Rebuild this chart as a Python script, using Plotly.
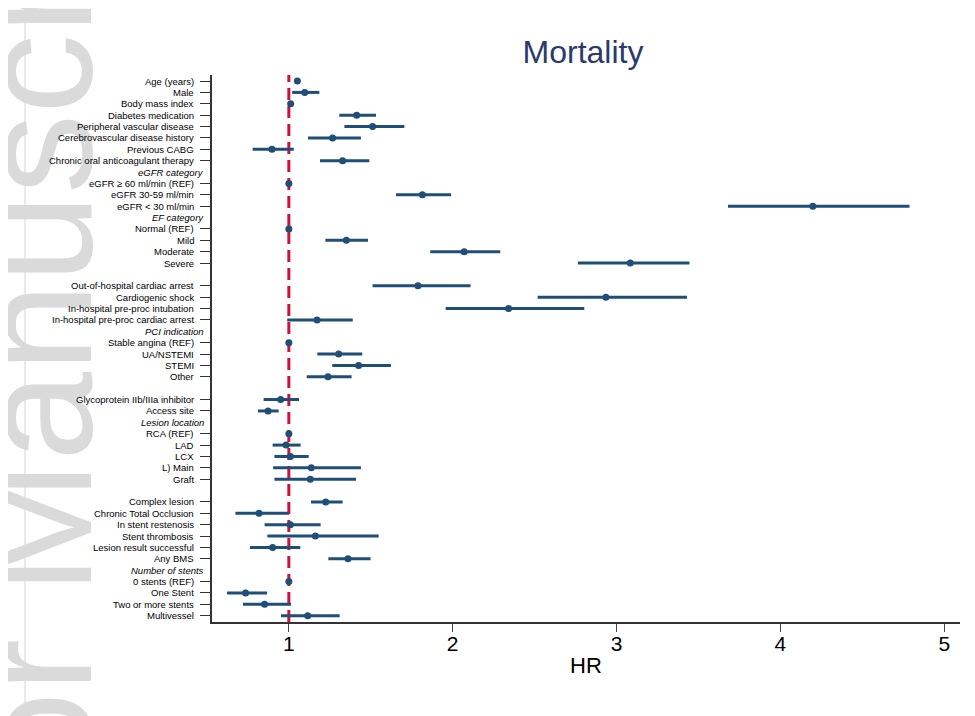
import plotly.graph_objects as go

# ---------------- data ----------------
labels = [
    "Age (years)", "Male", "Body mass index", "Diabetes medication",
    "Peripheral vascular disease", "Cerebrovascular disease history",
    "Previous CABG", "Chronic oral anticoagulant therapy",
    "eGFR category", "eGFR ≥ 60 ml/min (REF)", "eGFR 30-59 ml/min", "eGFR &lt; 30 ml/min",
    "EF category", "Normal (REF)", "Mild", "Moderate", "Severe",
    "",
    "Out-of-hospital cardiac arrest", "Cardiogenic shock",
    "In-hospital pre-proc intubation", "In-hospital pre-proc cardiac arrest",
    "PCI indication", "Stable angina (REF)", "UA/NSTEMI", "STEMI", "Other",
    "",
    "Glycoprotein IIb/IIIa inhibitor", "Access site",
    "Lesion location", "RCA (REF)", "LAD", "LCX", "L) Main", "Graft",
    "",
    "Complex lesion", "Chronic Total Occlusion", "In stent restenosis",
    "Stent thrombosis", "Lesion result successful", "Any BMS",
    "Number of stents", "0 stents (REF)", "One Stent", "Two or more stents", "Multivessel",
]
headers = ["eGFR category", "EF category", "PCI indication", "Lesion location", "Number of stents"]

hr = [1.052, 1.097, 1.011, 1.414, 1.511, 1.267, 0.897, 1.328,
      None, 1.0, 1.815, 4.198,
      None, 1.0, 1.351, 2.07, 3.084,
      None,
      1.788, 2.935, 2.341, 1.172,
      None, 1.0, 1.304, 1.426, 1.239,
      None,
      0.95, 0.873,
      None, 1.0, 0.983, 1.009, 1.137, 1.131,
      None,
      1.225, 0.818, 1.009, 1.162, 0.901, 1.361,
      None, 1.0, 0.736, 0.852, 1.115]
lo = [1.04, 1.02, 1.0, 1.308, 1.339, 1.117, 0.779, 1.19,
      None, 1.0, 1.654, 3.68,
      None, 1.0, 1.223, 1.863, 2.764,
      None,
      1.511, 2.518, 1.957, 0.99,
      None, 1.0, 1.174, 1.265, 1.109,
      None,
      0.846, 0.812,
      None, 1.0, 0.901, 0.912, 0.904, 0.912,
      None,
      1.135, 0.674, 0.852, 0.869, 0.763, 1.241,
      None, 1.0, 0.623, 0.72, 0.952]
hi = [1.065, 1.186, 1.022, 1.532, 1.705, 1.44, 1.03, 1.491,
      None, 1.0, 1.99, 4.788,
      None, 1.0, 1.483, 2.29, 3.445,
      None,
      2.109, 3.43, 2.803, 1.39,
      None, 1.0, 1.448, 1.623, 1.383,
      None,
      1.062, 0.938,
      None, 1.0, 1.072, 1.121, 1.44, 1.41,
      None,
      1.328, 1.001, 1.194, 1.548, 1.07, 1.499,
      None, 1.0, 0.867, 1.013, 1.31]

x_ticks = [1, 2, 3, 4, 5]

# ---------------- build ----------------
BLUE = "#1f4e79"
RED = "#d0103a"
FONT = "Liberation Sans, Arial, sans-serif"

ys, xs, ep, em = [], [], [], []
for i, v in enumerate(hr):
    if v is None:
        continue
    ys.append(i)
    xs.append(v)
    ep.append(hi[i] - v)
    em.append(v - lo[i])

fig = go.Figure()
fig.add_trace(go.Scatter(
    x=xs, y=ys, mode="markers",
    marker=dict(color=BLUE, size=7, symbol="circle"),
    error_x=dict(type="data", symmetric=False, array=ep, arrayminus=em,
                 color=BLUE, thickness=3, width=0),
    showlegend=False, hoverinfo="x+y",
))

# reference line at HR = 1
fig.add_shape(type="line", xref="x", yref="paper", x0=1, x1=1, y0=0, y1=1,
              line=dict(color=RED, width=3, dash="12px,6px"), layer="below")

# page edge line
fig.add_shape(type="line", xref="paper", yref="paper", x0=-0.25, x1=-0.25,
              y0=-0.2, y1=1.2, line=dict(color="#c9d6e3", width=1))

annotations = [dict(
    text="Author Manuscript", textangle=-90, xref="paper", yref="paper",
    x=-0.236, y=0.295, xanchor="center", yanchor="middle", showarrow=False,
    font=dict(family=FONT, size=160, color="#dadada"),
)]
tick_rows = []
for i, lab in enumerate(labels):
    if lab == "":
        continue
    if lab in headers:
        annotations.append(dict(text="<i>" + lab + "</i>", xref="paper", yref="y",
                                x=0, y=i, xanchor="right", yanchor="middle", xshift=-6,
                                showarrow=False, font=dict(family=FONT, size=9.5, color="black")))
    else:
        tick_rows.append(i)
        annotations.append(dict(text=lab, xref="paper", yref="y",
                                x=0, y=i, xanchor="right", yanchor="middle", xshift=-16,
                                showarrow=False, font=dict(family=FONT, size=9.5, color="black")))

W, H = 967, 708
fig.update_layout(
    width=W, height=H, autosize=False,
    margin=dict(l=204, r=15, t=67, b=94),
    paper_bgcolor="white", plot_bgcolor="white",
    title=dict(text="Mortality", x=0.496, xref="paper", xanchor="center",
               y=1 - 44 / H, yref="container", yanchor="middle",
               font=dict(family=FONT, size=32, color="#2b3a6b")),
    annotations=annotations,
    xaxis=dict(range=[0.531, 5.096], tickvals=x_ticks, ticks="outside", ticklen=8,
               tickcolor="#444", tickwidth=1.2, showline=True, linecolor="#333",
               linewidth=1.5, showgrid=False, zeroline=False, ticklabelstandoff=-6,
               tickfont=dict(family=FONT, size=21, color="black"),
               title=dict(text="HR", font=dict(family=FONT, size=22, color="black"), standoff=4)),
    yaxis=dict(range=[47.55, -0.53], tickvals=tick_rows, showticklabels=False,
               ticks="outside", ticklen=10, tickcolor="#333", tickwidth=1.2,
               showline=True, linecolor="#333", linewidth=1.5,
               showgrid=False, zeroline=False),
)

fig.write_html("out.html")
